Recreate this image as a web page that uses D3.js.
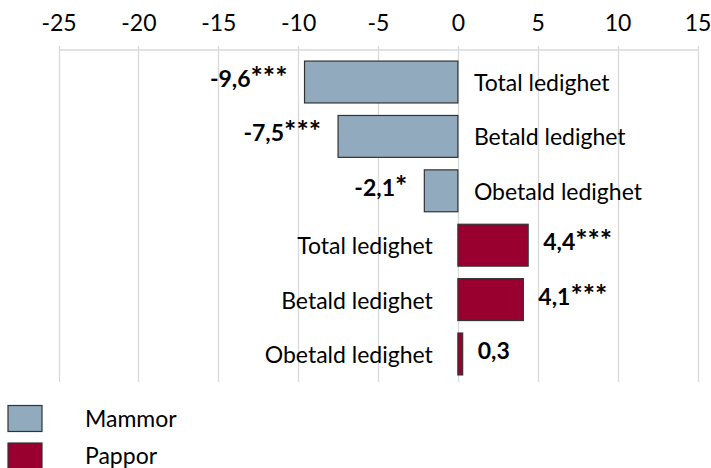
<!DOCTYPE html>
<html>
<head>
<meta charset="utf-8">
<script src="https://cdn.jsdelivr.net/npm/d3@7"></script>
<style>
  body { margin: 0; background: #fff; }
  text { font-family: Lato, "Open Sans", sans-serif; fill: #000; }
</style>
</head>
<body>
<script>
// categories and values
var categories = ["Total ledighet", "Betald ledighet", "Obetald ledighet"];
var groups = ["Mammor", "Pappor"];
var mammor = [-9.6, -7.5, -2.1];
var pappor = [4.4, 4.1, 0.3];
var mammorLabels = ["-9,6***", "-7,5***", "-2,1*"];
var papporLabels = ["4,4***", "4,1***", "0,3"];
var ticks = [-25, -20, -15, -10, -5, 0, 5, 10, 15];
var colors = ["#91aabd", "#990030"];

var W = 711, H = 468, fs = 23;

// build rows: mammor first, then pappor
var rows = [];
mammor.forEach(function (v, i) {
  rows.push({cat: categories[i], v: v, label: mammorLabels[i], g: 0});
});
pappor.forEach(function (v, i) {
  rows.push({cat: categories[i], v: v, label: papporLabels[i], g: 1});
});

var svg = d3.select("body").append("svg")
  .attr("width", W)
  .attr("height", H);

var x = d3.scaleLinear().domain([-25, 15]).range([58.5, 697.5]);
var y = d3.scaleBand().domain(d3.range(rows.length)).range([54, 382])
  .paddingInner(0.23).paddingOuter(0.13);

// gridlines
svg.append("g").selectAll("line")
  .data(ticks)
  .enter().append("line")
  .attr("x1", function (d) { return Math.round(x(d)) + 0.5; })
  .attr("x2", function (d) { return Math.round(x(d)) + 0.5; })
  .attr("y1", 46)
  .attr("y2", 382)
  .attr("stroke", "#d9d9d9")
  .attr("stroke-width", 1.3);

// top axis, plain hyphen for negatives like the source
var axis = svg.append("g").attr("transform", "translate(0,49.5)")
  .call(d3.axisTop(x).tickValues(ticks).tickSize(0).tickPadding(19)
    .tickFormat(function (d) { return String(d); }));
axis.select(".domain").attr("stroke", "#d9d9d9").attr("stroke-width", 1.3);
axis.selectAll("text")
  .style("font-family", "Lato, 'Open Sans', sans-serif")
  .style("font-size", fs + "px")
  .attr("fill", "#000");

// bars
svg.append("g").selectAll("rect")
  .data(rows)
  .enter().append("rect")
  .attr("x", function (d) { return x(Math.min(0, d.v)); })
  .attr("y", function (d, i) { return y(i); })
  .attr("width", function (d) { return Math.abs(x(d.v) - x(0)); })
  .attr("height", y.bandwidth())
  .attr("fill", function (d) { return colors[d.g]; })
  .attr("stroke", "#333")
  .attr("stroke-width", 1.2);

// category labels on the other side of zero
svg.append("g").selectAll("text")
  .data(rows)
  .enter().append("text")
  .attr("x", function (d) { return d.v < 0 ? x(0) + 16 : x(0) - 25; })
  .attr("y", function (d, i) { return y(i) + y.bandwidth() / 2 + 1; })
  .attr("dy", "0.35em")
  .attr("text-anchor", function (d) { return d.v < 0 ? "start" : "end"; })
  .style("font-size", fs + "px")
  .text(function (d) { return d.cat; });

// value labels - stars a bit bigger, calibri's asterisk is larger than lato's
var vl = svg.append("g").selectAll("text")
  .data(rows)
  .enter().append("text")
  .attr("x", function (d) { return d.v < 0 ? x(d.v) - 17 : x(d.v) + 15; })
  .attr("y", function (d, i) { return y(i) + y.bandwidth() / 2 - 3; })
  .attr("dy", "0.35em")
  .attr("text-anchor", function (d) { return d.v < 0 ? "end" : "start"; })
  .style("font-size", fs + "px")
  .style("font-weight", "bold");
vl.append("tspan")
  .text(function (d) { return d.label.replace(/\*+$/, ""); });
vl.append("tspan")
  .style("font-size", "29px")
  .text(function (d) { var m = d.label.match(/\*+$/); return m ? m[0] : ""; });

// legend
var leg = svg.append("g").selectAll("g")
  .data(groups)
  .enter().append("g")
  .attr("transform", function (d, i) { return "translate(8," + (405.5 + i * 37.5) + ")"; });
leg.append("rect")
  .attr("width", 34)
  .attr("height", 26)
  .attr("fill", function (d, i) { return colors[i]; })
  .attr("stroke", "#333")
  .attr("stroke-width", 1.2);
leg.append("text")
  .attr("x", 77)
  .attr("y", 13)
  .attr("dy", "0.35em")
  .style("font-size", fs + "px")
  .text(function (d) { return d; });
</script>
</body>
</html>
